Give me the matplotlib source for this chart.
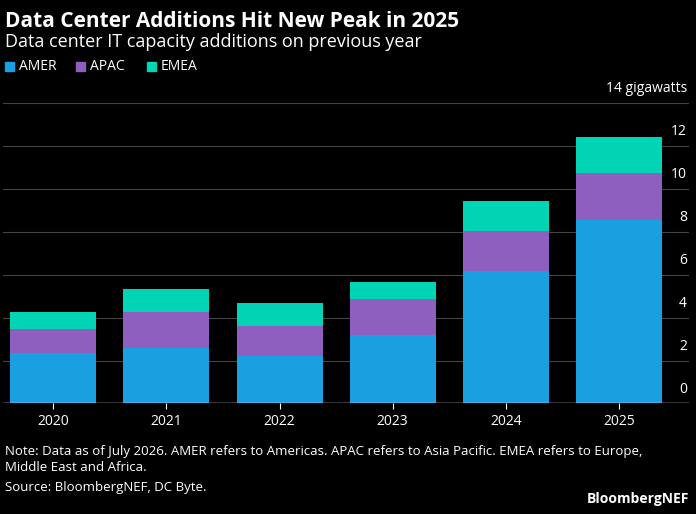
import matplotlib.pyplot as plt
import numpy as np

years = ["2020", "2021", "2022", "2023", "2024", "2025"]
amer = [2.33, 2.60, 2.19, 3.21, 6.19, 8.56]
apac = [1.16, 1.68, 1.44, 1.67, 1.86, 2.18]
emea = [0.79, 1.07, 1.07, 0.79, 1.39, 1.68]
yticks = [0, 2, 4, 6, 8, 10, 12, 14]

plt.rcParams['font.family'] = ['Open Sans', 'DejaVu Sans']
fig = plt.figure(figsize=(6.96, 5.14), dpi=100, facecolor='black')
ax = fig.add_axes([0.005, 0.215, 0.985, 0.585], facecolor='black')
x = np.arange(len(years))
c1, c2, c3 = '#1a9fe0', '#8e5fbf', '#00d4b4'
ax.bar(x, amer, 0.76, color=c1, zorder=3)
ax.bar(x, apac, 0.76, bottom=amer, color=c2, zorder=3)
b2 = np.array(amer) + np.array(apac)
ax.bar(x, emea, 0.76, bottom=b2, color=c3, zorder=3)
ax.set_ylim(0, 14)
ax.set_xlim(-0.44, 5.62)
ax.set_yticks(yticks)
ax.set_yticklabels([])
for t in yticks:
    ax.axhline(t, color='#444444', lw=0.8, zorder=1)
    lab = "14 gigawatts" if t == 14 else str(t)
    ax.text(5.6, t + 0.3, lab, color='white', ha='right', va='bottom', fontsize=10)
ax.tick_params(axis='y', length=0)
ax.set_xticks(x)
ax.set_xticklabels(years, color='white', fontsize=10)
ax.tick_params(axis='x', colors='white', length=4)
for s in ax.spines.values():
    s.set_visible(False)
ax.axhline(0, color='white', lw=1, zorder=4)

fig.text(0.007, 0.978, "Data Center Additions Hit New Peak in 2025", color='white',
         fontsize=15, fontweight='bold', va='top')
fig.text(0.007, 0.935, "Data center IT capacity additions on previous year", color='white',
         fontsize=13, va='top')
lx = 0.007
for name, col in [("AMER", c1), ("APAC", c2), ("EMEA", c3)]:
    fig.patches.append(plt.Rectangle((lx, 0.862), 0.013, 0.018, color=col, transform=fig.transFigure))
    fig.text(lx + 0.02, 0.871, name, color='white', fontsize=10, va='center')
    lx += 0.102
fig.text(0.007, 0.135, "Note: Data as of July 2026. AMER refers to Americas. APAC refers to Asia Pacific. EMEA refers to Europe,\nMiddle East and Africa.",
         color='white', fontsize=9.5, va='top', linespacing=1.3)
fig.text(0.007, 0.065, "Source: BloombergNEF, DC Byte.", color='white', fontsize=9.5, va='top')
fig.text(0.99, 0.015, "BloombergNEF", color='white', fontsize=10, fontweight='bold', ha='right', va='bottom')
fig.savefig('out.png', facecolor='black')
